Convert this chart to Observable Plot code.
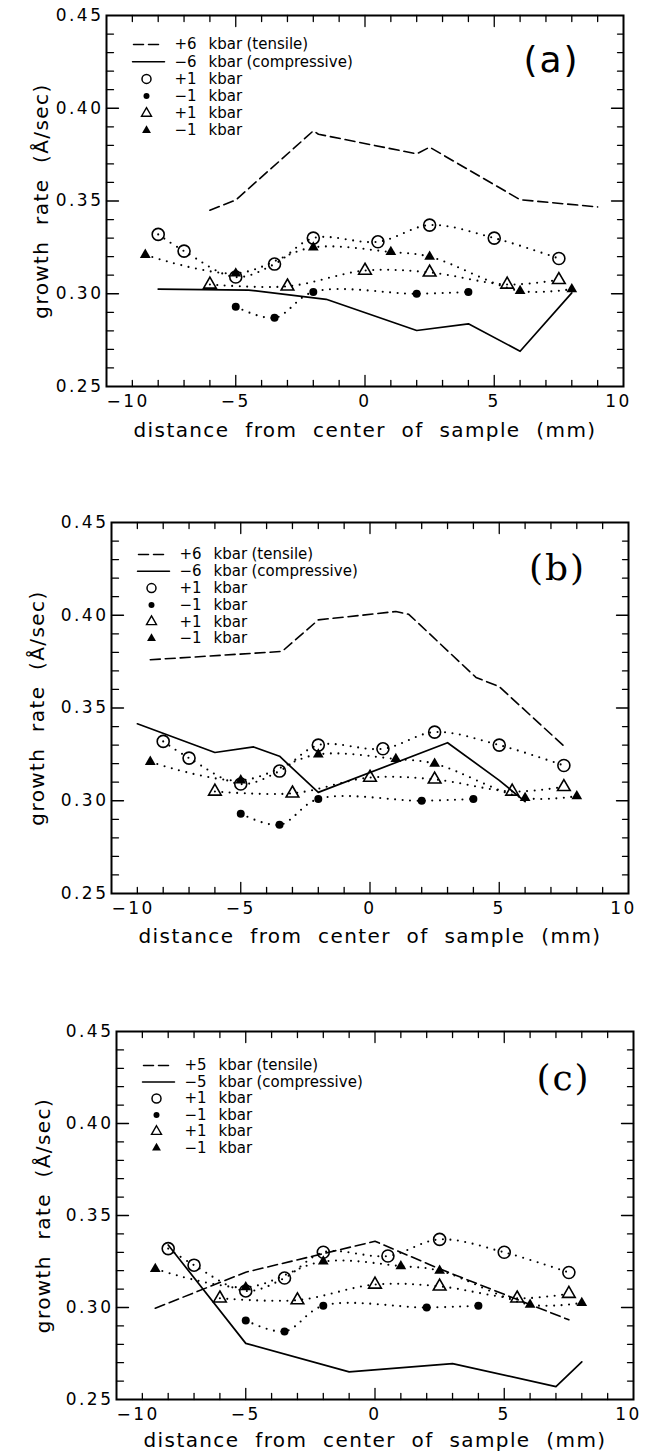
<!DOCTYPE html>
<html><head><meta charset="utf-8">
<script src="https://cdn.jsdelivr.net/npm/d3@7"></script>
<script src="https://cdn.jsdelivr.net/npm/@observablehq/plot@0.6"></script>
<style>
html,body{margin:0;padding:0;background:#fff;}
#page{position:relative;width:645px;height:1454px;overflow:hidden;background:#fff;}
.panel{position:absolute;left:0;}
</style></head><body><div id="page"></div>
<script>
// ---- data (same measured points in all three panels) ----
const circX = [-8, -7, -5, -3.5, -2, 0.5, 2.5, 5, 7.5];          // +1 kbar, open circles
const circY = [0.332, 0.323, 0.309, 0.316, 0.330, 0.328, 0.337, 0.330, 0.319];
const dotX = [-5, -3.5, -2, 2, 4];                                 // -1 kbar, filled dots
const dotY = [0.293, 0.287, 0.301, 0.300, 0.301];
const triOpenX = [-6, -3, 0, 2.5, 5.5, 7.5];                       // +1 kbar, open triangles
const triOpenY = [0.305, 0.304, 0.3125, 0.3115, 0.305, 0.3075];
const triFillX = [-8.5, -5, -2, 1, 2.5, 6, 8];                     // -1 kbar, filled triangles
const triFillY = [0.321, 0.311, 0.325, 0.3225, 0.320, 0.3015, 0.3025];

// panel (a): +6 / -6 kbar
const dashA_X = [-6, -5, -2, -1.8, 2, 2.5, 6, 9];
const dashA_Y = [0.345, 0.3505, 0.3878, 0.386, 0.3754, 0.379, 0.3507, 0.3468];
const solidA_X = [-8, -4.5, -1.5, 2, 4, 6, 8];
const solidA_Y = [0.3025, 0.302, 0.297, 0.2802, 0.2838, 0.269, 0.3005];
// panel (b): +6 / -6 kbar
const dashB_X = [-8.5, -3.4, -2, 1, 1.5, 4.1, 5, 7.5];
const dashB_Y = [0.376, 0.3805, 0.3975, 0.402, 0.4005, 0.3665, 0.3615, 0.3295];
const solidB_X = [-9, -6, -4.5, -3.5, -2, 3, 5, 6];
const solidB_Y = [0.3415, 0.326, 0.329, 0.324, 0.3045, 0.3313, 0.311, 0.2995];
// panel (c): +5 / -5 kbar
const dashC_X = [-8.5, -5, 0, 2.5, 7.5];
const dashC_Y = [0.2996, 0.3192, 0.336, 0.321, 0.2933];
const solidC_X = [-8, -5, -1, 3, 7, 8];
const solidC_Y = [0.334, 0.2805, 0.265, 0.2695, 0.257, 0.2705];

// ---- ticks and labels ----
const xTickLabels = [-10, -5, 0, 5, 10];
const yTickLabels = [0.25, 0.30, 0.35, 0.40, 0.45];
const xMajorTicks = [-5, 0, 5];
const xMinorTicks = [-9, -8, -7, -6, -4, -3, -2, -1, 1, 2, 3, 4, 6, 7, 8, 9];
const yMajorTicks = [0.30, 0.35, 0.40];
const yMinorTicks = [0.26, 0.27, 0.28, 0.29, 0.31, 0.32, 0.33, 0.34, 0.36, 0.37, 0.38, 0.39, 0.41, 0.42, 0.43, 0.44];
const xTitle = "distance from center of sample (mm)";
const yTitle = "growth rate (Å/sec)";
const panelTags = ["(a)", "(b)", "(c)"];
const legendNums = [["+6", "−6"], ["+6", "−6"], ["+5", "−5"]];
const legendUnit = "kbar";
const legendKinds = ["(tensile)", "(compressive)"];
const legendSmall = ["+1", "−1", "+1", "−1"];

const zip = (X, Y) => X.map((x, i) => ({x, y: Y[i]}));
const fmtX = d => (d < 0 ? "−" + Math.abs(d) : String(d));
const FONT = "DejaVu Sans, Verdana, sans-serif";
const tickShape = {draw(ctx, l) { ctx.moveTo(0, 0); ctx.lineTo(0, -l); }};

const layout = [
  {top: 0,   height: 470, ml: 106, mr: 22, mt: 15, mb: 84, titleDy: 50, yTitleDx: -59, tagDx: -72, tagDy: 45, tagFont: FONT, legY0: 29, legStep: 17.2},
  {top: 470, height: 500, ml: 111, mr: 17, mt: 52, mb: 77, titleDy: 49, yTitleDx: -68, tagDx: -71, tagDy: 46, tagFont: "DejaVu Serif, serif", legY0: 32, legStep: 16.8},
  {top: 970, height: 484, ml: 116, mr: 12, mt: 61, mb: 55, titleDy: 47, yTitleDx: -67, tagDx: -70, tagDy: 47, tagFont: "DejaVu Serif, serif", legY0: 34, legStep: 16.5}
];
const dashes = [[dashA_X, dashA_Y], [dashB_X, dashB_Y], [dashC_X, dashC_Y]];
const solids = [[solidA_X, solidA_Y], [solidB_X, solidB_Y], [solidC_X, solidC_Y]];

function ticks() {
  const o = {stroke: "#000", strokeWidth: 1.3, anchor: "start", shape: tickShape};
  return [
    Plot.vector(xMajorTicks, {...o, x: d => d, frameAnchor: "bottom", rotate: 0, length: 11}),
    Plot.vector(xMinorTicks, {...o, x: d => d, frameAnchor: "bottom", rotate: 0, length: 6}),
    Plot.vector(xMajorTicks, {...o, x: d => d, frameAnchor: "top", rotate: 180, length: 11}),
    Plot.vector(xMinorTicks, {...o, x: d => d, frameAnchor: "top", rotate: 180, length: 6}),
    Plot.vector(yMajorTicks, {...o, y: d => d, frameAnchor: "left", rotate: 90, length: 12}),
    Plot.vector(yMinorTicks, {...o, y: d => d, frameAnchor: "left", rotate: 90, length: 7}),
    Plot.vector(yMajorTicks, {...o, y: d => d, frameAnchor: "right", rotate: 270, length: 12}),
    Plot.vector(yMinorTicks, {...o, y: d => d, frameAnchor: "right", rotate: 270, length: 6})
  ];
}

const txt = {fill: "#000"};

function legend(p, k) {
  const marks = [];
  const rowY = i => p.legY0 + p.legStep * i;
  const lineShape = {draw(ctx, l) { ctx.moveTo(0, 0); ctx.lineTo(0, -l); }};
  marks.push(Plot.vector([0], {frameAnchor: "top-left", dx: 27, dy: rowY(0), rotate: 90, length: 27, anchor: "start", shape: lineShape, stroke: "#000", strokeWidth: 1.5, strokeDasharray: "10,5"}));
  marks.push(Plot.vector([0], {frameAnchor: "top-left", dx: 26, dy: rowY(1), rotate: 90, length: 32, anchor: "start", shape: lineShape, stroke: "#000", strokeWidth: 1.5}));
  const syms = [
    {symbol: "circle", r: 4.5, fill: "none", stroke: "#000", strokeWidth: 1.5},
    {symbol: "circle", r: 3, fill: "#000", stroke: "none"},
    {symbol: "triangle", r: 3.7, fill: "none", stroke: "#000", strokeWidth: 1.4},
    {symbol: "triangle", r: 3.3, fill: "#000", stroke: "none"}
  ];
  syms.forEach((s, j) => marks.push(Plot.dot([0], {...s, frameAnchor: "top-left", dx: 40, dy: rowY(j + 2)})));
  const nums = [...legendNums[k], ...legendSmall];
  const lt = {frameAnchor: "top-left", textAnchor: "start", lineAnchor: "middle", fontSize: 15, ...txt, ariaDescription: "legend"};
  nums.forEach((t, i) => {
    marks.push(Plot.text([t], {...lt, dx: 68, dy: rowY(i)}));
    marks.push(Plot.text([legendUnit], {...lt, dx: 102, dy: rowY(i)}));
  });
  legendKinds.forEach((t, i) => marks.push(Plot.text([t], {...lt, dx: 140, dy: rowY(i)})));
  return marks;
}

const page = document.getElementById("page");
layout.forEach((p, k) => {
  const dotted = {stroke: "#000", strokeWidth: 2.1, strokeDasharray: "0,7.5", strokeLinecap: "round", curve: "catmull-rom"};
  const xl = {frameAnchor: "bottom", dy: 20, lineAnchor: "bottom", text: fmtX, fontSize: 17, ...txt, ariaDescription: "ticklabel"};
  const svg = Plot.plot({
    width: 645, height: p.height,
    marginLeft: p.ml, marginRight: p.mr, marginTop: p.mt, marginBottom: p.mb,
    x: {domain: [-10, 10], axis: null},
    y: {domain: [0.25, 0.45], axis: null},
    style: {fontFamily: FONT, color: "#000", background: "#fff", overflow: "visible"},
    marks: [
      // dotted connecting lines
      Plot.line(zip(circX, circY), {x: "x", y: "y", ...dotted}),
      Plot.line(zip(dotX, dotY), {x: "x", y: "y", ...dotted}),
      Plot.line(zip(triOpenX, triOpenY), {x: "x", y: "y", ...dotted}),
      Plot.line(zip(triFillX, triFillY), {x: "x", y: "y", ...dotted}),
      // tensile (dashed) and compressive (solid)
      Plot.line(zip(dashes[k][0], dashes[k][1]), {x: "x", y: "y", stroke: "#000", strokeWidth: 1.6, strokeDasharray: "10,5"}),
      Plot.line(zip(solids[k][0], solids[k][1]), {x: "x", y: "y", stroke: "#000", strokeWidth: 1.7}),
      // symbols
      Plot.dot(zip(circX, circY), {x: "x", y: "y", r: 6, symbol: "circle", fill: "none", stroke: "#000", strokeWidth: 1.6}),
      Plot.dot(zip(dotX, dotY), {x: "x", y: "y", r: 4, symbol: "circle", fill: "#000", stroke: "none"}),
      Plot.dot(zip(triOpenX, triOpenY), {x: "x", y: "y", r: 4.7, symbol: "triangle", fill: "none", stroke: "#000", strokeWidth: 1.6}),
      Plot.dot(zip(triFillX, triFillY), {x: "x", y: "y", r: 4, symbol: "triangle", fill: "#000", stroke: "none"}),
      // frame and inward ticks
      Plot.frame({stroke: "#000", strokeWidth: 2}),
      ...ticks(),
      // tick labels
      Plot.text(yTickLabels, {y: d => d, frameAnchor: "left", dx: -3, textAnchor: "end", lineAnchor: "middle", text: d => d.toFixed(2), fontSize: 17, ...txt, ariaDescription: "ticklabel"}),
      Plot.text(xTickLabels.slice(0, 1), {...xl, x: d => d, dx: 0, textAnchor: "start"}),
      Plot.text(xTickLabels.slice(1, 4), {...xl, x: d => d, dx: 0, textAnchor: "middle"}),
      Plot.text(xTickLabels.slice(4), {...xl, x: d => d, dx: -5, textAnchor: "middle"}),
      // axis titles
      Plot.text([xTitle], {frameAnchor: "bottom", dy: p.titleDy, textAnchor: "middle", lineAnchor: "bottom", fontSize: 20, ...txt, ariaDescription: "title"}),
      Plot.text([yTitle], {frameAnchor: "left", dx: p.yTitleDx, rotate: -90, textAnchor: "middle", lineAnchor: "bottom", fontSize: 20, ...txt, ariaDescription: "title"}),
      // panel tag
      Plot.text([panelTags[k]], {frameAnchor: "top-right", dx: p.tagDx, dy: p.tagDy, textAnchor: "middle", lineAnchor: "middle", fontSize: 36, fontFamily: p.tagFont, ...txt, ariaDescription: "tag"}),
      ...legend(p, k)
    ]
  });
  const s = d3.select(svg);
  s.selectAll('g[aria-description="ticklabel"] text').style("letter-spacing", "2.5px");
  s.selectAll('g[aria-description="title"] text').style("letter-spacing", "1.4px").style("word-spacing", "8px");
  s.selectAll('g[aria-description="tag"] text').style("letter-spacing", "2px");
  const div = document.createElement("div");
  div.className = "panel";
  div.style.top = p.top + "px";
  div.appendChild(svg);
  page.appendChild(div);
});
</script>
</body></html>
